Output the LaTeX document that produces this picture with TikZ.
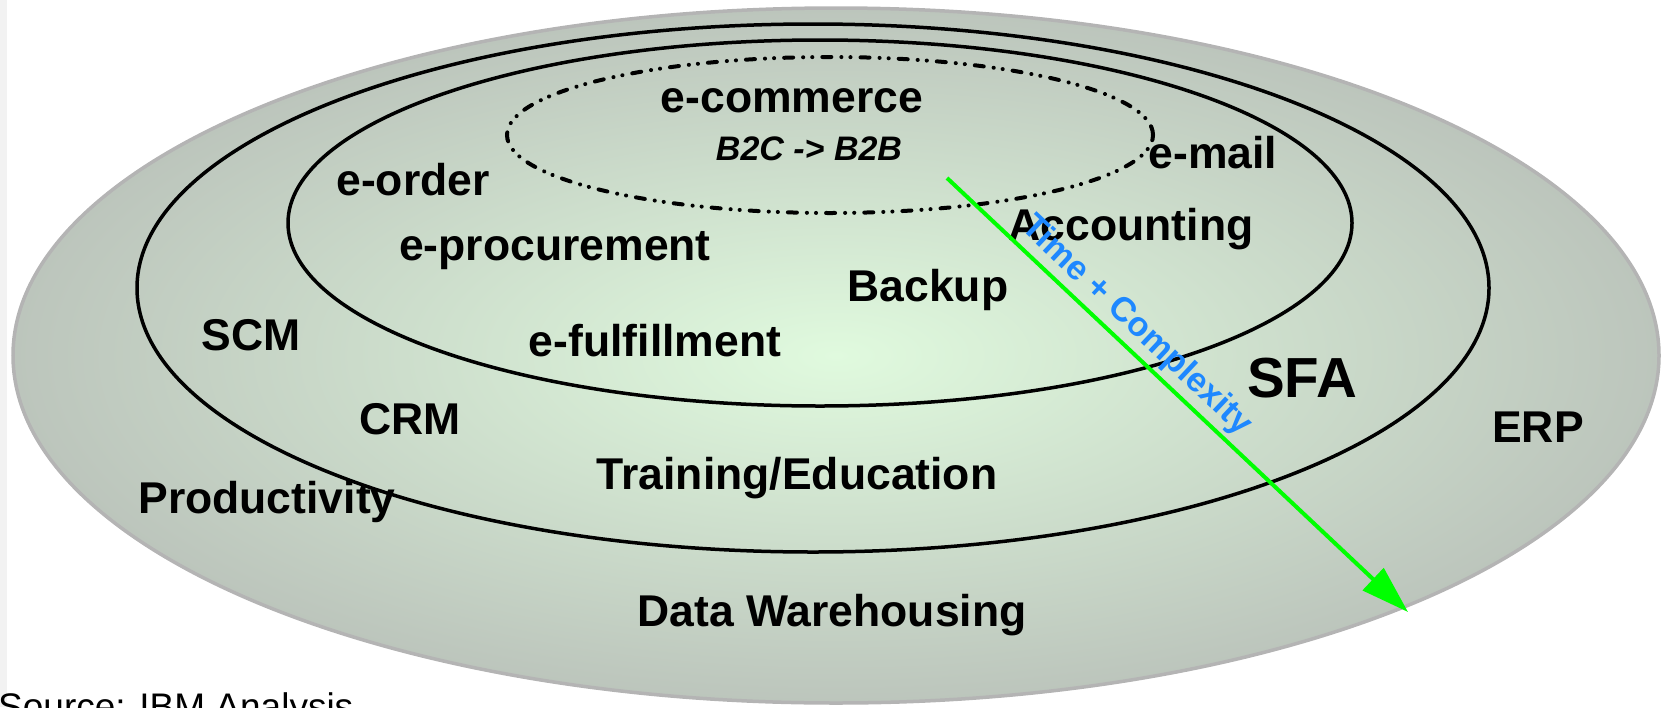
\documentclass[tikz,border=0pt]{standalone}
\usepackage{fontspec}
\setmainfont{Liberation Sans}
\usetikzlibrary{arrows.meta}

\definecolor{discin}{RGB}{224,250,222}
\definecolor{discout}{RGB}{188,197,188}
\definecolor{discrim}{RGB}{180,180,180}
\definecolor{trendgreen}{RGB}{0,255,0}
\definecolor{trendblue}{RGB}{30,136,255}

\begin{document}
\begin{tikzpicture}[x=1pt,y=-1pt,
  lbl/.style={font=\bfseries\fontsize{44.5}{52}\selectfont, anchor=base, inner sep=0pt, text=black},
  biglbl/.style={lbl, font=\bfseries\fontsize{56.5}{64}\selectfont},
  sublbl/.style={lbl, font=\bfseries\itshape\fontsize{34}{40}\selectfont},
  ring/.style={draw=black, line width=3.5pt},
  dashring/.style={draw=black, line width=4pt, line cap=round,
    dash pattern=on 9pt off 10pt on 0.1pt off 9pt on 0.1pt off 10pt},
  trend/.style={draw=trendgreen, line width=4pt,
    -{Triangle[length=48pt, width=30pt, fill=trendgreen]}},
  trendlbl/.style={font=\bfseries\fontsize{34.2}{40}\selectfont, text=trendblue, inner sep=0pt},
  note/.style={font=\fontsize{37}{44}\selectfont, anchor=base west, inner sep=0pt}]
\useasboundingbox (0,0) rectangle (1669,707);

% faint strip along the left edge
\fill[black!5] (0,0) rectangle (7,707);

% shaded outer disc
\shade[inner color=discin, outer color=discout] (836,355.5) ellipse [x radius=823pt, y radius=347.5pt];
\draw[discrim, line width=3.5pt] (836,355.5) ellipse [x radius=823pt, y radius=347.5pt];

% nested rings
\draw[ring] (813,288) ellipse [x radius=676pt, y radius=264pt];
\draw[ring] (820,223) ellipse [x radius=532pt, y radius=183pt];
\draw[dashring] (830,135) ellipse [x radius=323pt, y radius=78pt];

% labels
\node[lbl] (ecommerce) at (792,112) {e-commerce};
\node[sublbl] (b2c) at (809,160) {B2C -> B2B};
\node[lbl] (eorder) at (413,195) {e-order};
\node[lbl] (email) at (1213,168) {e-mail};
\node[lbl] (accounting) at (1131,240) {Accounting};
\node[lbl] (eprocurement) at (555,260) {e-procurement};
\node[lbl] (backup) at (928,301) {Backup};
\node[lbl] (scm) at (251,350) {SCM};
\node[lbl] (efulfillment) at (655,356) {e-fulfillment};
\node[biglbl] (sfa) at (1302,397) {SFA};
\node[lbl] (crm) at (410,434) {CRM};
\node[lbl] (erp) at (1538,442) {ERP};
\node[lbl] (training) at (797,489) {Training/Education};
\node[lbl] (productivity) at (267,513) {Productivity};
\node[lbl] (datawarehousing) at (832,626) {Data Warehousing};

% trend arrow
\coordinate (tstart) at (947,178);
\coordinate (tend) at (1408,612);
\draw[trend] (tstart) -- node[trendlbl, pos=0.378, sloped, above=4pt] (timecx) {Time + Complexity} (tend);

% source line
\node[note] (source) at (-2,719) {Source: IBM Analysis};
\end{tikzpicture}
\end{document}
